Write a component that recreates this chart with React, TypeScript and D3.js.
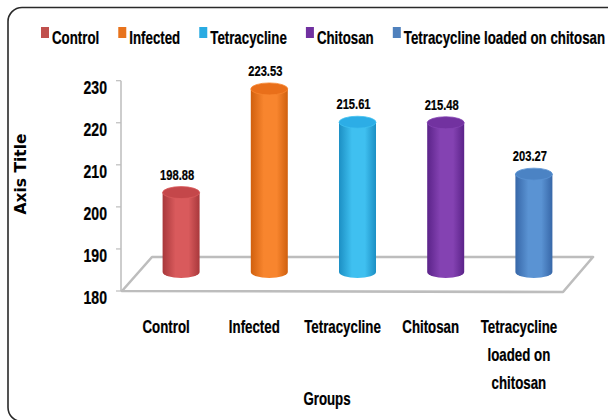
import React, { useMemo } from "react";
import * as d3 from "d3";

const categories = ["Control", "Infected", "Tetracycline", "Chitosan", "Tetracycline loaded on chitosan"];
const values = [198.88, 223.53, 215.61, 215.48, 203.27];
const valueLabels = ["198.88", "223.53", "215.61", "215.48", "203.27"];
const yTicks = [180, 190, 200, 210, 220, 230];
const categoryLabelLines = [["Control"], ["Infected"], ["Tetracycline"], ["Chitosan"], ["Tetracycline", "loaded on", "chitosan"]];
const legendColors = ["#C0504D", "#E8731C", "#29ABE2", "#7030A0", "#4F81BD"];
const barLight = ["#D95A5C", "#F8852E", "#3FC0F0", "#8442B2", "#5A93D3"];
const barDark = ["#A8383B", "#D0600E", "#1C8FC4", "#5B2389", "#3767A8"];
const barTop = ["#C4474A", "#E96F1A", "#2CADE6", "#7232A0", "#4B83C4"];

const W = 608;
const H = 420;
const FONT = "'Liberation Sans', Arial, sans-serif";
const SX = 0.7;

function CText({ x, y, anchor = "start", size = 19, sx = SX, children }: any) {
  return (
    <text
      transform={`translate(${x},${y}) scale(${sx},1)`}
      textAnchor={anchor}
      fontSize={size}
      fontWeight="bold"
      fontFamily={FONT}
      fill="#000"
      stroke="#000"
      strokeWidth={0.25}
    >
      {children}
    </text>
  );
}

export default function App() {
  const x = d3.scaleBand<string>().domain(categories).range([122, 563]).padding(0);
  const y = d3.scaleLinear().domain([180, 230]).range([291, 80.7]);
  const depthX = 15;
  const depthY = -19;
  const floorDX = 30;
  const floorDY = -34;
  const rx = 18.5;
  const ry = 6;

  const legendItems = useMemo(() => {
    const canvas = document.createElement("canvas");
    const ctx = canvas.getContext("2d")!;
    ctx.font = `bold 19px ${FONT}`;
    let cx = 41;
    return categories.map((c, i) => {
      const w = ctx.measureText(c).width * SX;
      const item = { x: cx, label: c, color: legendColors[i] };
      cx += 8 + 3 + w + 19;
      return item;
    });
  }, []);

  const base = y(180);
  const x0 = x.range()[0];
  const x1 = x.range()[1];
  const floorPts = [
    [x0, base],
    [x1, base + 1],
    [x1 + floorDX, base + floorDY],
    [x0 + floorDX, base + floorDY],
  ];

  return (
    <svg width={W} height={H} style={{ position: "absolute", left: 0, top: 0, background: "#fff" }}>
      <defs>
        {categories.map((c, i) => (
          <linearGradient key={i} id={`g${i}`} x1="0" x2="1" y1="0" y2="0">
            <stop offset="0%" stopColor={barDark[i]} />
            <stop offset="35%" stopColor={barLight[i]} />
            <stop offset="70%" stopColor={barLight[i]} />
            <stop offset="100%" stopColor={barDark[i]} />
          </linearGradient>
        ))}
      </defs>
      <rect x={8} y={7.5} width={680} height={414} rx={14} fill="#fff" stroke="#2a2a2a" strokeWidth={1.6} />

      {/* legend */}
      {legendItems.map((it, i) => (
        <g key={i}>
          <rect x={it.x} y={27} width={8} height={11} fill={it.color} />
          <CText x={it.x + 11} y={44}>{it.label}</CText>
        </g>
      ))}

      {/* axis title */}
      <text
        transform={`translate(26,174) rotate(-90)`}
        textAnchor="middle"
        fontSize={15.5}
        fontWeight="bold"
        fontFamily="'DejaVu Sans', Verdana, sans-serif"
        fill="#000"
      >
        Axis Title
      </text>

      {/* floor */}
      <polygon
        points={floorPts.map((p) => p.join(",")).join(" ")}
        fill="#fff"
        stroke="#BDBDBD"
        strokeWidth={2.6}
        strokeLinejoin="round"
      />

      {/* y axis */}
      <line x1={x0 - 1} x2={x0 - 1} y1={y(230)} y2={base} stroke="#BDBDBD" strokeWidth={1.5} />
      {yTicks.map((t) => (
        <g key={t}>
          <line x1={x0 - 6} x2={x0 - 1} y1={y(t)} y2={y(t)} stroke="#BDBDBD" strokeWidth={1.2} />
          <CText x={107} y={y(t) + 13} anchor="end" size={19} sx={0.74}>
            {String(t)}
          </CText>
        </g>
      ))}

      {/* bars */}
      {categories.map((c, i) => {
        const cx = (x(c) as number) + x.bandwidth() / 2 + depthX;
        const top = y(values[i]) + depthY;
        const bot = base + depthY;
        const body = `M${cx - rx},${top} L${cx - rx},${bot} A${rx},${ry} 0 0 0 ${cx + rx},${bot} L${cx + rx},${top} Z`;
        return (
          <g key={c}>
            <path d={body} fill={`url(#g${i})`} />
            <ellipse cx={cx} cy={top} rx={rx} ry={ry} fill={barTop[i]} stroke={barLight[i]} strokeWidth={0.8} />
            <CText x={cx - 4} y={top - 13} anchor="middle" size={15.5} sx={0.72}>
              {valueLabels[i]}
            </CText>
          </g>
        );
      })}

      {/* category labels */}
      {categories.map((c, i) => {
        const cx = (x(c) as number) + x.bandwidth() / 2;
        return (
          <g key={c}>
            {categoryLabelLines[i].map((ln, j) => (
              <CText key={j} x={cx} y={333 + j * 28} anchor="middle">
                {ln}
              </CText>
            ))}
          </g>
        );
      })}

      {/* x axis title */}
      <CText x={327} y={405} anchor="middle">Groups</CText>
    </svg>
  );
}
